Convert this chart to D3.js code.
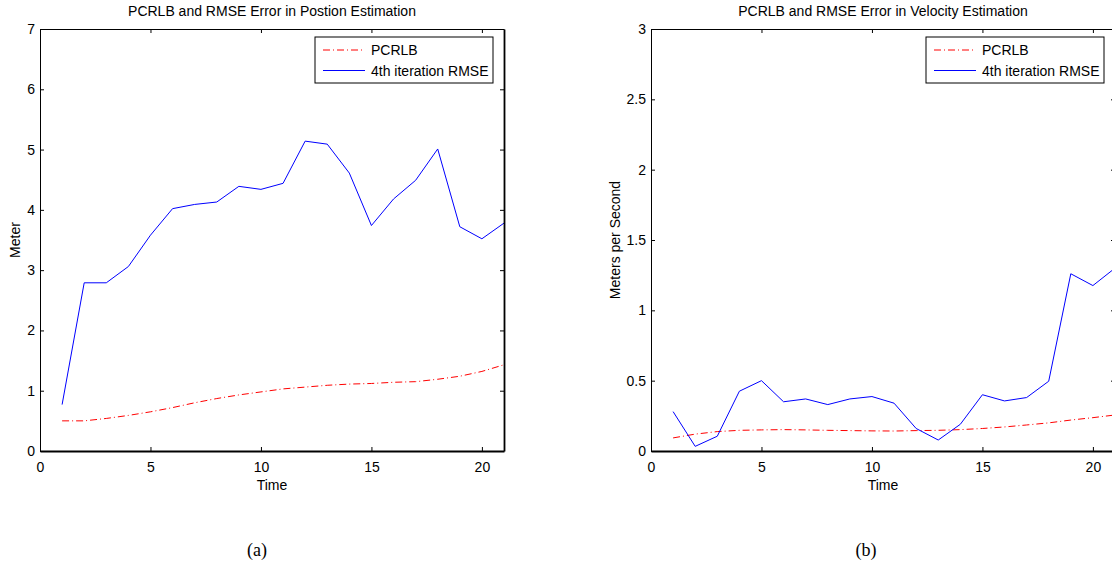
<!DOCTYPE html>
<html>
<head>
<meta charset="utf-8">
<script src="https://cdn.jsdelivr.net/npm/d3@7"></script>
<style>
  body { margin: 0; background: #fff; }
  svg { display: block; }
  text { font-family: "Liberation Sans", Arial, sans-serif; }
</style>
</head>
<body>
<div id="chart"></div>
<script>
// values
var time = [1,2,3,4,5,6,7,8,9,10,11,12,13,14,15,16,17,18,19,20,21];

var posPcrlb = [0.50,0.50,0.54,0.59,0.65,0.72,0.80,0.87,0.93,0.98,1.03,1.06,1.09,1.11,1.12,1.14,1.15,1.19,1.24,1.32,1.43];
var posRmse  = [0.77,2.79,2.79,3.06,3.58,4.02,4.09,4.13,4.39,4.34,4.44,5.14,5.09,4.61,3.74,4.18,4.49,5.01,3.72,3.52,3.78];

var velPcrlb = [0.093,0.12,0.138,0.147,0.150,0.152,0.150,0.147,0.145,0.143,0.142,0.145,0.147,0.152,0.160,0.171,0.185,0.200,0.220,0.237,0.256];
var velRmse  = [0.28,0.033,0.105,0.425,0.50,0.35,0.37,0.33,0.37,0.387,0.34,0.16,0.078,0.19,0.40,0.356,0.38,0.496,1.26,1.176,1.30];

var xTicks = [0,5,10,15,20];
var posTicks = [0,1,2,3,4,5,6,7];
var velTicks = [0,0.5,1,1.5,2,2.5,3];

var legendNames = ["PCRLB", "4th iteration RMSE"];

const W = 1112, H = 569;
const plotW = 464, plotH = 422;

const svg = d3.select("#chart")
  .append("svg")
    .attr("width", W)
    .attr("height", H);

function drawPanel(left, top, opts) {
  const g = svg.append("g")
      .attr("transform", `translate(${left},${top})`);

  const x = d3.scaleLinear().domain([0, 21]).range([0, plotW]);
  const y = d3.scaleLinear().domain([0, opts.yMax]).range([plotH, 0]);

  // white box
  g.append("rect")
    .attr("width", plotW).attr("height", plotH)
    .attr("fill", "#fff");

  // lines
  const line = d3.line()
    .x(function(d, i) { return x(time[i]); })
    .y(function(d) { return y(d); });

  g.append("path")
    .datum(opts.pcrlb)
    .attr("fill", "none")
    .attr("stroke", "#ff0000")
    .attr("stroke-width", 1)
    .attr("stroke-dasharray", "7,3,1,3")
    .attr("d", line);

  g.append("path")
    .datum(opts.rmse)
    .attr("fill", "none")
    .attr("stroke", "#0000ff")
    .attr("stroke-width", 1)
    .attr("d", line);

  // axes, ticks inside like matlab
  const ax = g.append("g")
    .attr("transform", `translate(0,${plotH})`)
    .call(d3.axisBottom(x).tickValues(xTicks).tickSizeInner(-4).tickSizeOuter(0).tickPadding(11));
  g.append("g")
    .call(d3.axisTop(x).tickValues(xTicks).tickSizeInner(-4).tickSizeOuter(0).tickFormat(""));
  const ay = g.append("g")
    .call(d3.axisLeft(y).tickValues(opts.yTicks).tickSizeInner(-4).tickSizeOuter(0).tickPadding(5).tickFormat(d3.format("")));
  const ar = g.append("g")
    .attr("transform", `translate(${plotW},0)`)
    .call(d3.axisRight(y).tickValues(opts.yTicks).tickSizeInner(-4).tickSizeOuter(0).tickFormat(""));

  g.selectAll(".domain, .tick line").attr("stroke", "#000");
  // bottom and right edges look a bit heavier in the original
  ax.select(".domain").attr("stroke-width", 1.8);
  ar.select(".domain").attr("stroke-width", 1.8);
  g.selectAll(".tick text")
    .attr("fill", "#000")
    .style("font-size", "14px")
    .style("font-family", "'Liberation Sans', Arial, sans-serif");

  // title
  g.append("text")
    .attr("x", plotW / 2)
    .attr("y", -13)
    .attr("text-anchor", "middle")
    .style("font-size", "14px")
    .text(opts.title);

  // x label
  g.append("text")
    .attr("x", plotW / 2)
    .attr("y", plotH + 39)
    .attr("text-anchor", "middle")
    .style("font-size", "14px")
    .text("Time");

  // y label
  g.append("text")
    .attr("transform", "rotate(-90)")
    .attr("x", -plotH / 2)
    .attr("y", opts.yLabelX)
    .attr("text-anchor", "middle")
    .style("font-size", "14px")
    .text(opts.yLabel);

  // legend
  const lg = g.append("g")
    .attr("transform", `translate(${plotW - 189},8)`);
  lg.append("rect")
    .attr("width", 178).attr("height", 46)
    .attr("fill", "#fff")
    .attr("stroke", "#000")
    .attr("stroke-width", 1);
  const dashes = ["7,3,1,3", null];
  const colors = ["#ff0000", "#0000ff"];
  legendNames.forEach(function(name, i) {
    const yy = 13 + i * 20.5;
    lg.append("line")
      .attr("x1", 8).attr("x2", 50)
      .attr("y1", yy).attr("y2", yy)
      .attr("stroke", colors[i])
      .attr("stroke-width", 1)
      .attr("stroke-dasharray", dashes[i]);
    lg.append("text")
      .attr("x", 56)
      .attr("y", yy + 5)
      .style("font-size", "14px")
      .text(name);
  });
}

drawPanel(40, 29, {
  yMax: 7, yTicks: posTicks, pcrlb: posPcrlb, rmse: posRmse,
  title: "PCRLB and RMSE Error in Postion Estimation",
  yLabel: "Meter", yLabelX: -20
});

drawPanel(651, 29, {
  yMax: 3, yTicks: velTicks, pcrlb: velPcrlb, rmse: velRmse,
  title: "PCRLB and RMSE Error in Velocity Estimation",
  yLabel: "Meters per Second", yLabelX: -31
});

// sub-figure captions
svg.append("text")
  .attr("x", 257).attr("y", 556)
  .attr("text-anchor", "middle")
  .style("font-family", "'Liberation Serif', 'Times New Roman', serif")
  .style("font-size", "18px")
  .text("(a)");
svg.append("text")
  .attr("x", 866).attr("y", 556)
  .attr("text-anchor", "middle")
  .style("font-family", "'Liberation Serif', 'Times New Roman', serif")
  .style("font-size", "18px")
  .text("(b)");
</script>
</body>
</html>
